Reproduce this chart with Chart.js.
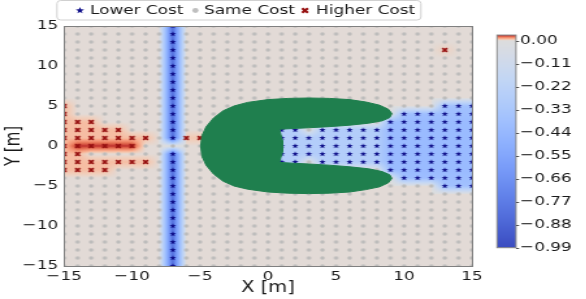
<!DOCTYPE html>
<html>
<head>
<meta charset="utf-8">
<script src="https://cdn.jsdelivr.net/npm/chart.js@4.4.1/dist/chart.umd.min.js"></script>
<style>
  html, body { margin: 0; padding: 0; background: #fff; overflow: hidden; }
  /* the reference is a horizontally stretched figure: draw narrow, then stretch */
  #wrap { position: absolute; left: 0; top: 0; width: 451px; height: 299px;
          transform: scaleX(1.3); transform-origin: 0 0; }
</style>
</head>
<body>
<div id="wrap"><canvas id="chart"></canvas></div>
<script>
'use strict';

/* ── DATA ── */
const gridCoords = [-15, -14, -13, -12, -11, -10, -9, -8, -7, -6, -5, -4, -3, -2, -1, 0,
                    1, 2, 3, 4, 5, 6, 7, 8, 9, 10, 11, 12, 13, 14, 15];
const axisTicks = [-15, -10, -5, 0, 5, 10, 15];
const cbTicks = [0.00, -0.11, -0.22, -0.33, -0.44, -0.55, -0.66, -0.77, -0.88, -0.99];
const cbMin = -0.99;
const cbMax = 0.027;
const sameDelta = 0.001;

// blocks of grid points : [xFrom, xTo, yFrom, yTo, cost delta]
const lowerBlocks = [
  [-7, -7, 1, 15, -0.84],
  [-7, -7, -15, -1, -0.84],
  [1, 2, 2, 2, -0.28], [4, 8, 2, 2, -0.28],
  [1, 8, -1, 1, -0.28],
  [1, 2, -2, -2, -0.28], [4, 8, -2, -2, -0.28],
  [9, 15, -3, 3, -0.42],
  [10, 15, 4, 4, -0.40], [10, 15, -4, -4, -0.40],
  [13, 15, 5, 5, -0.38], [13, 15, -5, -5, -0.38]
];
const higherBlocks = [
  [-15, -15, -3, 5, 0.008],
  [-14, -14, -3, 3, 0.008],
  [-13, -13, 0, 3, 0.008], [-13, -13, -3, -2, 0.008],
  [-12, -12, 0, 2, 0.008], [-12, -12, -3, -2, 0.008],
  [-11, -11, 0, 2, 0.008], [-11, -11, -2, -2, 0.008],
  [-10, -10, 0, 1, 0.008], [-10, -10, -2, -2, 0.008],
  [-9, -9, 1, 1, 0.008], [-9, -9, -2, -2, 0.008],
  [-6, -5, 1, 1, 0.006],
  [-14, -10, 0, 0, 0.025],
  [13, 13, 12, 12, 0.004]
];

// obstacle outline (metres)
const obstacleX = [-4.95, -4.85, -4.55, -4.0, -3.3, -2.5, -1.5, 0.0, 1.5, 3.0, 4.5, 6.0, 7.2, 8.2, 8.85, 9.1,
  8.95, 8.4, 7.4, 6.0, 4.5, 3.0, 1.8, 0.85, 0.95, 1.05, 1.1, 1.05, 0.95, 0.85, 1.8, 3.0, 4.5, 6.0, 7.4,
  8.4, 8.95, 9.1, 8.85, 8.2, 7.2, 6.0, 4.5, 3.0, 1.5, 0.0, -1.5, -2.5, -3.3, -4.0, -4.55, -4.85, -4.95];
const obstacleY = [0, 1.3, 2.4, 3.5, 4.4, 5.0, 5.45, 5.8, 5.95, 6.0, 5.95, 5.8, 5.5, 5.1, 4.6, 4.05,
  3.55, 3.15, 2.85, 2.6, 2.42, 2.28, 2.18, 2.1, 1.4, 0.7, 0.0, -0.7, -1.4, -2.05, -2.15, -2.25, -2.4, -2.6, -2.85,
  -3.2, -3.6, -4.05, -4.6, -5.1, -5.45, -5.75, -5.9, -5.95, -5.9, -5.75, -5.4, -5.0, -4.4, -3.5, -2.4, -1.3, 0];

/* ── BUILD GRID ── */
const field = gridCoords.map(() => gridCoords.map(() => sameDelta));
const kind = gridCoords.map(() => gridCoords.map(() => 'same'));

function applyBlocks(blocks, k) {
  blocks.forEach(([x0, x1, y0, y1, d]) => {
    for (let x = x0; x <= x1; x++) {
      for (let y = y0; y <= y1; y++) {
        const i = gridCoords.indexOf(x), j = gridCoords.indexOf(y);
        field[j][i] = d;
        kind[j][i] = k;
      }
    }
  });
}
applyBlocks(lowerBlocks, 'lower');
applyBlocks(higherBlocks, 'higher');

const samePts = [], lowerPts = [], higherPts = [];
gridCoords.forEach((y, j) => gridCoords.forEach((x, i) => {
  const p = { x, y };
  if (kind[j][i] === 'lower') lowerPts.push(p);
  else if (kind[j][i] === 'higher') higherPts.push(p);
  else samePts.push(p);
}));
const obstaclePts = obstacleX.map((x, i) => ({ x, y: obstacleY[i] }));

/* ── COLOURMAP (coolwarm, centred on 0) ── */
const coolwarm = [
  [59, 76, 192], [68, 90, 204], [78, 104, 215], [88, 117, 225], [98, 130, 234], [108, 142, 241],
  [119, 154, 248], [130, 165, 252], [141, 176, 254], [152, 185, 255], [163, 194, 254], [174, 202, 251],
  [184, 208, 249], [194, 214, 245], [204, 217, 238], [213, 219, 230], [221, 221, 221],
  [229, 216, 209], [236, 211, 197], [241, 204, 184], [244, 196, 173], [247, 186, 159], [247, 175, 145],
  [247, 163, 131], [244, 152, 122], [241, 139, 109], [235, 126, 96], [228, 111, 84], [220, 96, 73],
  [210, 79, 63], [199, 62, 53], [186, 42, 44], [180, 4, 38]
];
function norm(v) {
  const t = v < 0 ? 0.5 * (1 + v / -cbMin) : 0.5 * (1 + v / cbMax);
  return Math.max(0, Math.min(1, t));
}
function cmap(t) {
  const f = t * (coolwarm.length - 1);
  const i = Math.min(coolwarm.length - 2, Math.floor(f));
  const w = f - i;
  const a = coolwarm[i], b = coolwarm[i + 1];
  return [a[0] + (b[0] - a[0]) * w, a[1] + (b[1] - a[1]) * w, a[2] + (b[2] - a[2]) * w];
}
function sampleField(x, y) {
  const gx = Math.max(0, Math.min(gridCoords.length - 1.0001, x - gridCoords[0]));
  const gy = Math.max(0, Math.min(gridCoords.length - 1.0001, y - gridCoords[0]));
  const i = Math.floor(gx), j = Math.floor(gy);
  const u = gx - i, w = gy - j;
  return field[j][i] * (1 - u) * (1 - w) + field[j][i + 1] * u * (1 - w) +
         field[j + 1][i] * (1 - u) * w + field[j + 1][i + 1] * u * w;
}

/* ── MARKERS ── */
const STAR_COLOR = '#10108a';
const CROSS_COLOR = '#961010';
const DOT_COLOR = 'rgba(184, 184, 184, 0.9)';

function starPath(g, R) {
  const r = R * 0.42;
  g.beginPath();
  for (let k = 0; k < 10; k++) {
    const a = -Math.PI / 2 + k * Math.PI / 5;
    const rr = k % 2 ? r : R;
    g.lineTo(rr * Math.cos(a), rr * Math.sin(a));
  }
  g.closePath();
}
function drawStar(g, R) { starPath(g, R); g.fillStyle = STAR_COLOR; g.fill(); }
function drawDot(g, R) { g.beginPath(); g.arc(0, 0, R, 0, Math.PI * 2); g.fillStyle = DOT_COLOR; g.fill(); }
function drawCross(g, R) {
  g.strokeStyle = CROSS_COLOR; g.lineWidth = R * 0.95; g.lineCap = 'butt';
  g.beginPath();
  g.moveTo(-R, -R); g.lineTo(R, R);
  g.moveTo(-R, R); g.lineTo(R, -R);
  g.stroke();
}
function makeMarker(size, fn, R) {
  const c = document.createElement('canvas');
  c.width = c.height = size;
  const g = c.getContext('2d');
  g.translate(size / 2, size / 2);
  fn(g, R);
  return c;
}
const starImg = makeMarker(8, drawStar, 2.7);
const dotImg = makeMarker(6, drawDot, 1.75);
const crossImg = makeMarker(6, drawCross, 1.8);

/* ── PLUGINS ── */
const heatmapPlugin = {
  id: 'heatmap',
  beforeDatasetsDraw(chart) {
    const { ctx, chartArea: a, scales: { x, y } } = chart;
    const w = Math.round(a.right - a.left), h = Math.round(a.bottom - a.top);
    const off = document.createElement('canvas');
    off.width = w; off.height = h;
    const octx = off.getContext('2d');
    const img = octx.createImageData(w, h);
    for (let j = 0; j < h; j++) {
      const dy = y.getValueForPixel(a.top + j + 0.5);
      for (let i = 0; i < w; i++) {
        const dx = x.getValueForPixel(a.left + i + 0.5);
        const c = cmap(norm(sampleField(dx, dy)));
        const k = (j * w + i) * 4;
        img.data[k] = c[0]; img.data[k + 1] = c[1]; img.data[k + 2] = c[2]; img.data[k + 3] = 255;
      }
    }
    octx.putImageData(img, 0, 0);
    ctx.drawImage(off, a.left, a.top, a.right - a.left, a.bottom - a.top);
  }
};

const extrasPlugin = {
  id: 'extras',
  afterDraw(chart) {
    const { ctx, chartArea: a } = chart;
    ctx.save();
    // frame
    ctx.strokeStyle = '#808080';
    ctx.lineWidth = 1;
    ctx.strokeRect(Math.round(a.left) + 0.5, Math.round(a.top) + 0.5,
                   Math.round(a.right - a.left), Math.round(a.bottom - a.top));

    // colorbar
    const cb = chart.scales.cb;
    const x0 = a.right + 19.2, bw = 14.6;
    const yTop = cb.getPixelForValue(cbMax), yBot = cb.getPixelForValue(cbMin);
    for (let py = Math.floor(yTop); py < yBot; py++) {
      const v = cb.getValueForPixel(py + 0.5);
      const c = cmap(norm(v));
      ctx.fillStyle = `rgb(${c[0] | 0},${c[1] | 0},${c[2] | 0})`;
      const top = Math.max(py, yTop);
      ctx.fillRect(x0, top, bw, Math.min(py + 1, yBot) - top);
    }
    ctx.strokeStyle = '#888';
    ctx.strokeRect(x0, yTop, bw, yBot - yTop);
    ctx.strokeStyle = '#555';
    cbTicks.forEach(v => {
      const py = Math.round(cb.getPixelForValue(v)) + 0.5;
      ctx.beginPath(); ctx.moveTo(x0 + bw, py); ctx.lineTo(x0 + bw + 2.4, py); ctx.stroke();
    });

    // legend
    ctx.fillStyle = 'rgba(255,255,255,0.9)';
    ctx.strokeStyle = '#d0d0d0';
    ctx.beginPath();
    ctx.roundRect(43.8, 0.5, 280, 19.5, 3);
    ctx.fill(); ctx.stroke();
    ctx.font = '13px "DejaVu Sans"';
    ctx.textBaseline = 'middle';
    const ly = 10.5;
    const items = [
      { fn: drawStar, R: 3.4, mx: 61.5, tx: 69.2, text: 'Lower Cost' },
      { fn: drawDot, R: 2.4, mx: 150.3, tx: 156.9, text: 'Same Cost' },
      { fn: drawCross, R: 2.2, mx: 234.6, tx: 243.1, text: 'Higher Cost' }
    ];
    items.forEach(it => {
      ctx.save(); ctx.translate(it.mx, ly); it.fn(ctx, it.R); ctx.restore();
      ctx.fillStyle = '#1a1a1a';
      ctx.fillText(it.text, it.tx, ly);
    });
    ctx.restore();
  }
};

/* ── CHART ── */
const tickFont = { family: 'DejaVu Sans', size: 13 };
const titleFont = { family: 'DejaVu Sans', size: 15 };
const gridColor = 'rgba(150, 150, 150, 0.45)';
const fmt = v => (v < 0 ? '\u2212' : '') + Math.abs(v);
const noPad = s => { s.paddingTop = 0; s.paddingBottom = 0; s.paddingLeft = 0; s.paddingRight = 0; };

new Chart(document.getElementById('chart'), {
  type: 'scatter',
  data: {
    datasets: [
      {
        type: 'line', label: 'Obstacle', data: obstaclePts, order: 0,
        borderColor: '#1f7f4e', backgroundColor: '#1f7f4e', borderWidth: 1,
        pointRadius: 0, fill: 'shape', tension: 0
      },
      { label: 'Higher Cost', data: higherPts, pointStyle: crossImg, order: 1 },
      { label: 'Lower Cost', data: lowerPts, pointStyle: starImg, order: 2 },
      { label: 'Same Cost', data: samePts, pointStyle: dotImg, order: 3 }
    ]
  },
  options: {
    responsive: true,
    maintainAspectRatio: false,
    animation: false,
    events: [],
    layout: { padding: { top: 26, left: 0, right: 0, bottom: 0 } },
    plugins: { legend: { display: false }, tooltip: { enabled: false } },
    scales: {
      x: {
        type: 'linear', min: -15, max: 15, z: 1,
        afterBuildTicks: s => { s.ticks = axisTicks.map(v => ({ value: v })); },
        afterFit: s => { s.height = 33; noPad(s); },
        ticks: { font: tickFont, color: '#1a1a1a', padding: 3, maxRotation: 0, autoSkip: false, callback: fmt },
        grid: { color: gridColor, drawTicks: false },
        border: { display: false },
        title: { display: true, text: 'X [m]', font: titleFont, color: '#1a1a1a', padding: { top: 0, bottom: 2 } }
      },
      y: {
        type: 'linear', position: 'left', min: -15, max: 15, z: 1,
        afterBuildTicks: s => { s.ticks = axisTicks.map(v => ({ value: v })); },
        afterFit: s => { s.width = 49.2; noPad(s); },
        ticks: { font: tickFont, color: '#1a1a1a', padding: 4.5, autoSkip: false, callback: fmt },
        grid: { color: gridColor, drawTicks: false },
        border: { display: false },
        title: { display: true, text: 'Y [m]', font: titleFont, color: '#1a1a1a', padding: { top: 2, bottom: 0 } }
      },
      cb: {
        type: 'linear', position: 'right', min: -1.0775, max: 0.0703,
        afterBuildTicks: s => { s.ticks = cbTicks.map(v => ({ value: v })); },
        afterFit: s => { s.width = 87.9; noPad(s); },
        ticks: {
          font: tickFont, color: '#1a1a1a', padding: 36.9, autoSkip: false,
          callback: v => (v < 0 ? '\u2212' : '') + Math.abs(v).toFixed(2)
        },
        grid: { display: false, drawTicks: false },
        border: { display: false }
      }
    }
  },
  plugins: [heatmapPlugin, extrasPlugin]
});
</script>
</body>
</html>
